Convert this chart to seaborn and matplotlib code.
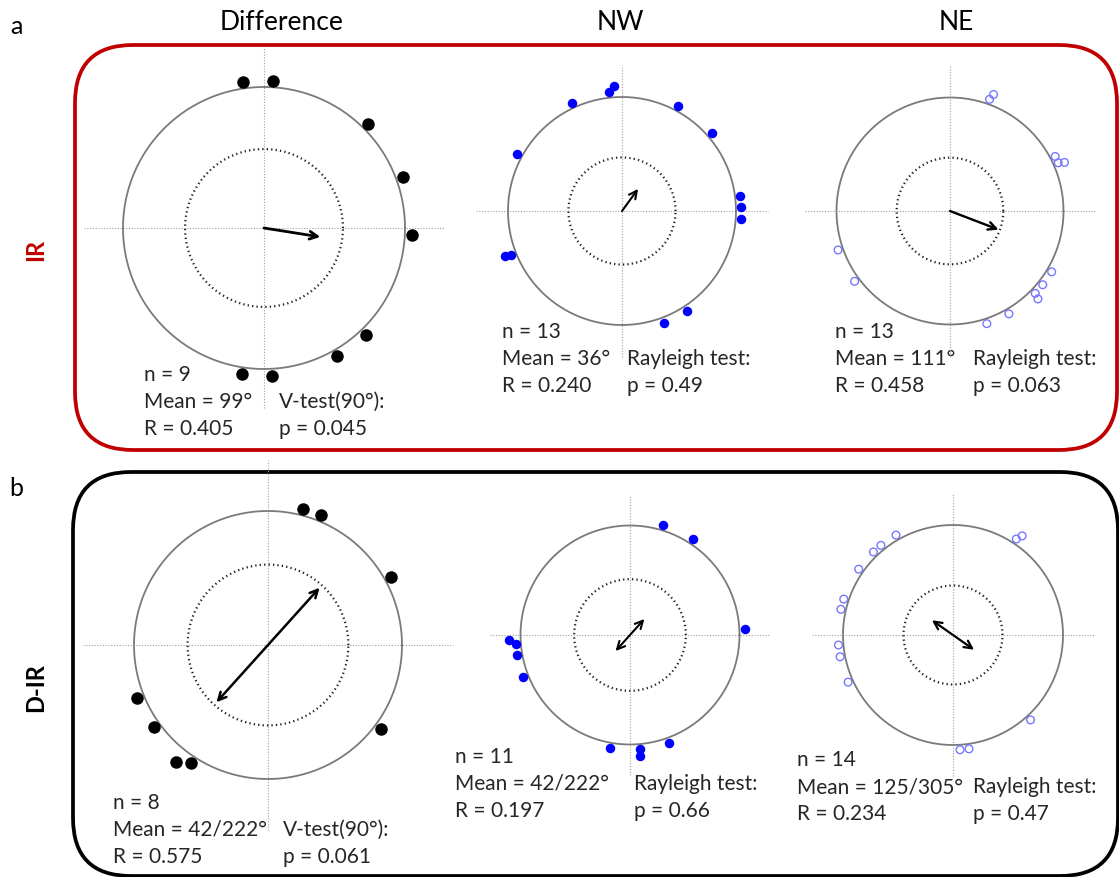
import numpy as np
import matplotlib
matplotlib.use("Agg")
import matplotlib.pyplot as plt
import seaborn as sns
import pandas as pd
from matplotlib.patches import FancyBboxPatch

# ---------------- data ----------------
row_labels = ["IR", "D-IR"]
col_titles = ["Difference", "NW", "NE"]

ir_diff_angles = [352, 3.5, 45, 70, 92.7, 136.4, 150.3, 176.9, 188.6]
ir_nw_angles = [356.3, 353.6, 335.4, 27.9, 49.1, 298.5, 83, 88, 94, 249.1, 248.4, 146.9, 159.6]
ir_ne_angles = [19.5, 20.5, 62.6, 66, 67, 250.8, 233.6, 120.9, 128.5, 134, 135, 150.2, 161.9]
dir_diff_angles = [14.3, 22.3, 61.3, 126.7, 248, 234.3, 218.1, 213.4]
dir_nw_angles = [16.9, 33.1, 87.1, 267.8, 265.6, 259.8, 248.4, 189.8, 175, 175.2, 160.3]
dir_ne_angles = [330.3, 321.2, 316.2, 304.9, 288.2, 282.9, 265, 259.1, 245.8, 33.4, 34.9, 137.6, 176.5, 172]

mean_angles = [99, 36, 111, 42, 42, 125]
axial = [False, False, False, True, True, True]
r_values = [0.405, 0.240, 0.458, 0.575, 0.197, 0.234]
crit_r = [0.56, 0.47, 0.47, 0.60, 0.51, 0.45]
n_labels = ["n = 9", "n = 13", "n = 13", "n = 8", "n = 11", "n = 14"]
mean_labels = ["Mean = 99°", "Mean = 36°", "Mean = 111°",
               "Mean = 42/222°", "Mean = 42/222°", "Mean = 125/305°"]
r_labels = ["R = 0.405", "R = 0.240", "R = 0.458", "R = 0.575", "R = 0.197", "R = 0.234"]
test_labels = ["V-test(90°):", "Rayleigh test:", "Rayleigh test:",
               "V-test(90°):", "Rayleigh test:", "Rayleigh test:"]
p_labels = ["p = 0.045", "p = 0.49", "p = 0.063", "p = 0.061", "p = 0.66", "p = 0.47"]

all_angles = [ir_diff_angles, ir_nw_angles, ir_ne_angles,
              dir_diff_angles, dir_nw_angles, dir_ne_angles]

# ---------------- layout / style ----------------
W, H = 1119, 877
DPI = 100
# centre x, centre y, radius (pixels)
geom = [(264, 228, 141), (622, 211, 114), (950, 211, 113.5),
        (268, 645, 134), (630, 635, 109.5), (953, 635, 110)]
cross_ext = [1.28, 1.28, 1.28, 1.38, 1.28, 1.28]
styles = ["big", "filled", "open", "big", "filled", "open"]
dot_px = {"big": 12.5, "filled": 9.5, "open": 9.0}
stack_px = {"big": 12.0, "filled": 6.5, "open": 6.5}
arrow_lw = [2.0, 1.5, 1.7, 1.8, 1.5, 1.6]
# text positions: (left x, first line y, test column x)
text_pos = [(144, 375, 279), (502, 332, 627), (835, 332, 973),
            (113, 803, 283), (455, 757, 634), (797, 760, 973)]
line_h = 27

BLUE = "#0000FF"
OPEN_BLUE = "#7878FF"
RED = "#C00000"

sns.set_theme(style="white")
plt.rcParams["font.family"] = ["Lato", "DejaVu Sans"]

fig = plt.figure(figsize=(W / DPI, H / DPI), dpi=DPI)
fig.patch.set_facecolor("white")

# overlay axes in pixel coordinates
ov = fig.add_axes([0, 0, 1, 1], zorder=0)
ov.set_xlim(0, W)
ov.set_ylim(H, 0)
ov.axis("off")
ov.patch.set_alpha(0)

# rounded group boxes
ov.add_patch(FancyBboxPatch((75, 45), 1117 - 75, 450 - 45,
                            boxstyle="round,pad=0,rounding_size=58",
                            fill=False, ec=RED, lw=2.7, clip_on=False))
ov.add_patch(FancyBboxPatch((73, 472), 1118 - 73, 876 - 472,
                            boxstyle="round,pad=0,rounding_size=58",
                            fill=False, ec="black", lw=2.7, clip_on=False))

# panel letters, titles, row labels
ov.text(16, 27, "a", fontsize=18, ha="center", va="center", color="black")
ov.text(16, 488, "b", fontsize=18, ha="center", va="center", color="black")
for title, x in zip(col_titles, [282, 620, 956]):
    ov.text(x, 22, title, fontsize=19, ha="center", va="center", color="black")
ov.text(36, 250, row_labels[0], fontsize=17, fontweight="bold", color=RED,
        rotation=90, ha="center", va="center")
ov.text(36, 688, row_labels[1], fontsize=17, fontweight="bold", color="black",
        rotation=90, ha="center", va="center")


def stack_radii(angles, base, step, min_sep_deg):
    order = np.argsort(angles)
    radii = np.zeros(len(angles))
    placed = []
    for i in order:
        a = angles[i]
        level = 0
        while any(lv == level and abs((a - b + 180) % 360 - 180) < min_sep_deg
                  for b, lv in placed):
            level += 1
        placed.append((a, level))
        radii[i] = base + level * step
    return radii


theta = np.linspace(0, 2 * np.pi, 361)
for k in range(6):
    cx, cy, r = geom[k]
    S = 1.5 * r
    ax = fig.add_axes([(cx - S) / W, 1 - (cy + S) / H, 2 * S / W, 2 * S / H], zorder=2)
    lim = S / r
    ax.set_xlim(-lim, lim)
    ax.set_ylim(-lim, lim)
    ax.axis("off")
    ax.patch.set_alpha(0)

    e = cross_ext[k]
    ax.plot([-e, e], [0, 0], ls=(0, (1, 1.5)), color="#a0a0a0", lw=0.8)
    ax.plot([0, 0], [-e, e], ls=(0, (1, 1.5)), color="#a0a0a0", lw=0.8)

    ax.plot(np.cos(theta), np.sin(theta), color="#7a7a7a", lw=1.3)
    cr = crit_r[k]
    ax.plot(cr * np.cos(theta), cr * np.sin(theta), color="#222222",
            lw=1.6, ls=(0, (0.6, 1.4)))

    st = styles[k]
    d = dot_px[st]
    ang = np.array(all_angles[k], dtype=float)
    base = 1 + (d / 2 + 0.5) / r
    step = 0.65 * d / r
    min_sep = np.degrees(stack_px[st] / r)
    rad = stack_radii(ang, base, step, min_sep)
    df = pd.DataFrame({"x": rad * np.sin(np.radians(ang)),
                       "y": rad * np.cos(np.radians(ang))})
    ms = (d * 72 / DPI) ** 2
    if st == "big":
        sns.scatterplot(data=df, x="x", y="y", ax=ax, color="black", s=ms,
                        edgecolor="black", linewidth=0, clip_on=False, zorder=5)
    elif st == "filled":
        sns.scatterplot(data=df, x="x", y="y", ax=ax, color=BLUE, s=ms,
                        edgecolor=BLUE, linewidth=0, clip_on=False, zorder=5)
    else:
        sns.scatterplot(data=df, x="x", y="y", ax=ax, color=OPEN_BLUE,
                        s=((d - 1.3) * 72 / DPI) ** 2, edgecolor=OPEN_BLUE,
                        linewidth=1.0, clip_on=False, zorder=5)
        ax.collections[-1].set_facecolor("none")
    ax.set_xlabel("")
    ax.set_ylabel("")

    m = np.radians(mean_angles[k])
    R = r_values[k]
    tip = (R * np.sin(m), R * np.cos(m))
    start = (-tip[0], -tip[1]) if axial[k] else (0, 0)
    style = "<->" if axial[k] else "->"
    ax.annotate("", xy=tip, xytext=start,
                arrowprops=dict(arrowstyle=style, color="black", lw=arrow_lw[k],
                                shrinkA=0, shrinkB=0, mutation_scale=14),
                zorder=6)

    # statistics text
    tx, ty, tx2 = text_pos[k]
    fs = 15
    ov.text(tx, ty, n_labels[k], fontsize=fs, ha="left", va="center")
    ov.text(tx, ty + line_h, mean_labels[k], fontsize=fs, ha="left", va="center")
    ov.text(tx, ty + 2 * line_h, r_labels[k], fontsize=fs, ha="left", va="center")
    ov.text(tx2, ty + line_h, test_labels[k], fontsize=fs, ha="left", va="center")
    ov.text(tx2, ty + 2 * line_h, p_labels[k], fontsize=fs, ha="left", va="center")

fig.savefig("out.png", dpi=DPI, facecolor="white")
